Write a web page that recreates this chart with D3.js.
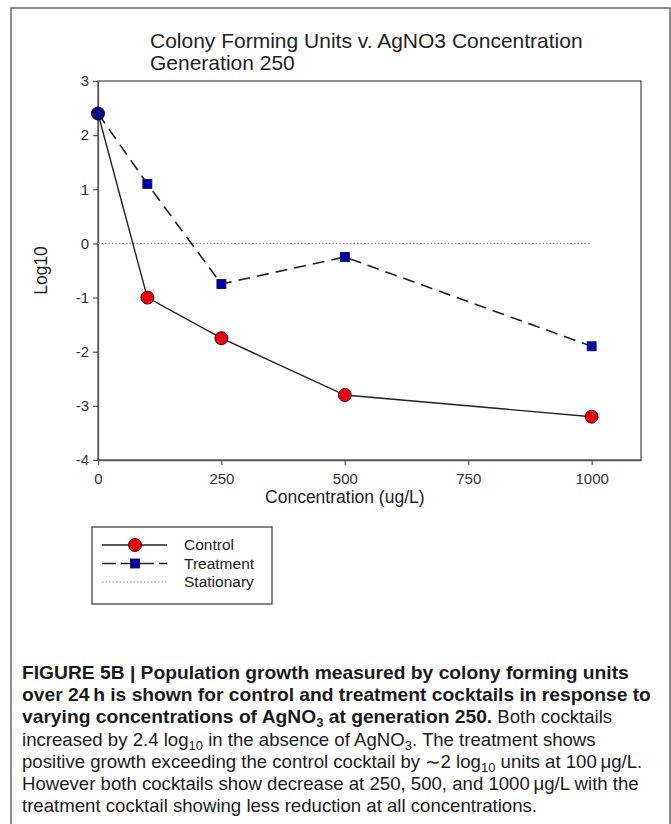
<!DOCTYPE html>
<html>
<head>
<meta charset="utf-8">
<title>Colony Forming Units v. AgNO3 Concentration</title>
<script src="https://d3js.org/d3.v7.min.js"></script>
<style>
  body {margin:0; background:#fff;}
  svg text {font-family:'Liberation Sans', Arial, sans-serif;}
  .tick text {font-size:15px; fill:#333;}
</style>
</head>
<body>
<svg id="chart"></svg>
<script>
// data
const concentrations = [0, 100, 250, 500, 1000];
const controlLog = [2.4, -1.0, -1.75, -2.8, -3.2];
const treatmentLog = [2.4, 1.1, -0.75, -0.25, -1.9];
const stationaryLog = 0;
const xTicks = [0, 250, 500, 750, 1000];
const yTicks = [3, 2, 1, 0, -1, -2, -3, -4];
const seriesNames = ['Control', 'Treatment', 'Stationary'];

const W = 671, H = 824;
const svg = d3.select('#chart').attr('width', W).attr('height', H);

// outer figure frame
svg.append('rect').attr('x', 11).attr('y', 8).attr('width', 659).attr('height', 830)
   .attr('fill', 'none').attr('stroke', '#666').attr('stroke-width', 1.5);

const x = d3.scaleLinear().domain([0, 1100]).range([98, 641]);
const y = d3.scaleLinear().domain([-4, 3]).range([460, 81]);

// title
const title = svg.append('text').attr('x', 150).attr('y', 48)
   .attr('font-size', 21).attr('fill', '#222');
title.append('tspan').attr('x', 150).text('Colony Forming Units v. AgNO3 Concentration');
title.append('tspan').attr('x', 150).attr('dy', 22).text('Generation 250');

// plot frame (top / right)
svg.append('rect').attr('x', x(0)).attr('y', y(3))
   .attr('width', x(1100) - x(0)).attr('height', y(-4) - y(3))
   .attr('fill', 'none').attr('stroke', '#555').attr('stroke-width', 1.3);

const xAxis = svg.append('g').attr('transform', `translate(0,${y(-4)})`)
   .call(d3.axisBottom(x).tickValues(xTicks).tickSize(5).tickSizeOuter(0).tickPadding(8)
         .tickFormat(d => String(d)));
const yAxis = svg.append('g').attr('transform', `translate(${x(0)},0)`)
   .call(d3.axisLeft(y).tickValues(yTicks).tickSize(5).tickSizeOuter(0).tickPadding(4)
         .tickFormat(d => String(d)));
[xAxis, yAxis].forEach(g => {
  g.attr('font-size', null).attr('font-family', null);
  g.select('.domain').attr('stroke', '#555').attr('stroke-width', 1.3);
  g.selectAll('.tick line').attr('stroke', '#555').attr('stroke-width', 1.2);
});

// axis titles
svg.append('text').attr('transform', `translate(47,${(y(3) + y(-4)) / 2}) rotate(-90)`)
   .attr('text-anchor', 'middle').attr('font-size', 17.5).attr('fill', '#222').text('Log10');
svg.append('text').attr('x', x(500)).attr('y', 503)
   .attr('text-anchor', 'middle').attr('font-size', 17.5).attr('fill', '#222')
   .text('Concentration (ug/L)');

const control = concentrations.map((c, i) => ({c, v: controlLog[i], t: treatmentLog[i]}));
const treatment = concentrations.map((c, i) => ({c, v: treatmentLog[i]}));
const line = d3.line().x(d => x(d.c)).y(d => y(d.v));

// stationary reference
svg.append('line').attr('x1', x(0)).attr('x2', x(1000))
   .attr('y1', y(stationaryLog)).attr('y2', y(stationaryLog))
   .attr('stroke', '#888').attr('stroke-width', 1.2).attr('stroke-dasharray', '1.5,2');

svg.append('path').datum(control).attr('d', line)
   .attr('fill', 'none').attr('stroke', '#222').attr('stroke-width', 1.4);
svg.append('path').datum(treatment).attr('d', line)
   .attr('fill', 'none').attr('stroke', '#222').attr('stroke-width', 1.6)
   .attr('stroke-dasharray', '12,7');

// markers: where both series meet, the point reads as navy
svg.selectAll('circle.ctrl').data(control).join('circle').attr('class', 'ctrl')
   .attr('cx', d => x(d.c)).attr('cy', d => y(d.v)).attr('r', 6.5)
   .attr('fill', d => d.v === d.t ? '#0a0a80' : '#e3000f')
   .attr('stroke', d => d.v === d.t ? '#000040' : '#5a0000').attr('stroke-width', 1);
svg.selectAll('rect.trt').data(treatment.filter((d, i) => d.v !== controlLog[i]))
   .join('rect').attr('class', 'trt')
   .attr('x', d => x(d.c) - 4.5).attr('y', d => y(d.v) - 4.5)
   .attr('width', 9).attr('height', 9)
   .attr('fill', '#0000a8').attr('stroke', '#000050').attr('stroke-width', 0.8);

// legend
const lg = svg.append('g');
lg.append('rect').attr('x', 92).attr('y', 527).attr('width', 180).attr('height', 77)
  .attr('fill', '#fff').attr('stroke', '#444').attr('stroke-width', 1.3);
seriesNames.forEach((name, i) => {
  const ly = 545 + i * 18.5;
  const l = lg.append('line').attr('x1', 102).attr('x2', 167).attr('y1', ly).attr('y2', ly)
    .attr('stroke', i === 2 ? '#888' : '#222').attr('stroke-width', i === 2 ? 1.1 : 1.4);
  if (i === 1) l.attr('stroke-dasharray', '14,5');
  if (i === 2) l.attr('stroke-dasharray', '1.5,2');
  if (i === 0) lg.append('circle').attr('cx', 135).attr('cy', ly).attr('r', 6.5)
    .attr('fill', '#e3000f').attr('stroke', '#5a0000');
  if (i === 1) lg.append('rect').attr('x', 130.5).attr('y', ly - 4.5).attr('width', 9).attr('height', 9)
    .attr('fill', '#0000a8').attr('stroke', '#000050').attr('stroke-width', 0.8);
  lg.append('text').attr('x', 184).attr('y', ly + 5).attr('font-size', 15.5)
    .attr('fill', '#222').text(name);
});

// caption: b = bold, n = normal, trailing s = subscript
const caption = [
  [['b', 'FIGURE 5B | Population growth measured by colony forming units']],
  [['b', 'over 24\u2009h is shown for control and treatment cocktails in response to']],
  [['b', 'varying concentrations of AgNO'], ['bs', '3'], ['b', ' at generation 250.'], ['n', ' Both cocktails']],
  [['n', 'increased by 2.4 log'], ['ns', '10'], ['n', ' in the absence of AgNO'], ['ns', '3'], ['n', '. The treatment shows']],
  [['n', 'positive growth exceeding the control cocktail by \u223c2 log'], ['ns', '10'], ['n', ' units at 100\u2009\u03bcg/L.']],
  [['n', 'However both cocktails show decrease at 250, 500, and 1000\u2009\u03bcg/L with the']],
  [['n', 'treatment cocktail showing less reduction at all concentrations.']]
];
const cap = svg.append('g').attr('transform', 'translate(22,0) scale(1.04,1)');
caption.forEach((segs, i) => {
  const t = cap.append('text').attr('x', 0).attr('y', 679 + i * 22.2)
    .attr('fill', '#1a1a1a');
  let shifted = false;
  segs.forEach(([k, s]) => {
    const bold = k[0] === 'b';
    const sub = k.endsWith('s');
    const sp = t.append('tspan').text(s)
      .attr('font-weight', bold ? 'bold' : 'normal')
      .attr('font-size', sub ? 12.5 : (bold ? 18.5 : 17.9));
    if (sub) sp.attr('dy', 4);
    else if (shifted) sp.attr('dy', -4);
    shifted = sub;
  });
});
</script>
</body>
</html>
